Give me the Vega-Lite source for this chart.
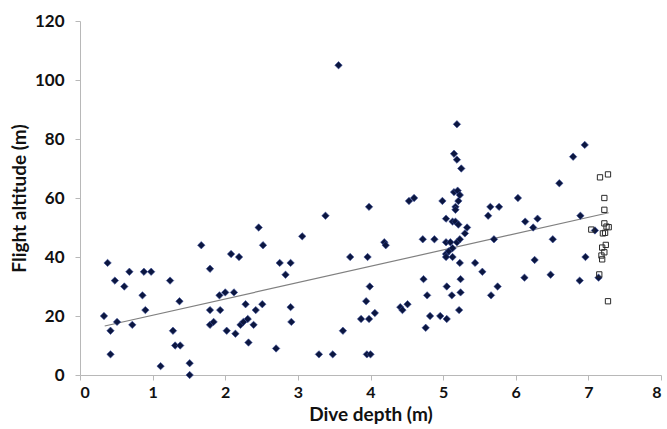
{
  "$schema": "https://vega.github.io/schema/vega-lite/v6.json",
  "autosize": {"type": "none"},
  "padding": {"left": 80, "top": 21, "right": 6, "bottom": 54},
  "width": 581,
  "height": 354,
  "background": "white",
  "config": {
    "view": {"stroke": null},
    "axis": {
      "grid": false,
      "domainColor": "#b8b8b8",
      "tickColor": "#b8b8b8",
      "tickSize": 5,
      "labelFont": "Lato",
      "labelFontWeight": "bold",
      "labelFontSize": 17,
      "labelColor": "#111111",
      "titleFont": "Lato",
      "titleFontWeight": "bold",
      "titleFontSize": 19,
      "titleColor": "#111111"
    }
  },
  "datasets": {
    "dives": [
      {"depth": 0.33, "alt": 20}, {"depth": 0.38, "alt": 38}, {"depth": 0.42, "alt": 15}, {"depth": 0.42, "alt": 7},
      {"depth": 0.48, "alt": 32}, {"depth": 0.51, "alt": 18}, {"depth": 0.61, "alt": 30}, {"depth": 0.68, "alt": 35},
      {"depth": 0.72, "alt": 17}, {"depth": 0.86, "alt": 27}, {"depth": 0.88, "alt": 35}, {"depth": 0.90, "alt": 22},
      {"depth": 0.98, "alt": 35}, {"depth": 1.11, "alt": 3}, {"depth": 1.24, "alt": 32}, {"depth": 1.28, "alt": 15},
      {"depth": 1.31, "alt": 10}, {"depth": 1.37, "alt": 25}, {"depth": 1.38, "alt": 10}, {"depth": 1.51, "alt": 4},
      {"depth": 1.51, "alt": 0}, {"depth": 1.67, "alt": 44}, {"depth": 1.79, "alt": 36}, {"depth": 1.79, "alt": 22},
      {"depth": 1.79, "alt": 17}, {"depth": 1.84, "alt": 18}, {"depth": 1.92, "alt": 27}, {"depth": 1.93, "alt": 22},
      {"depth": 2.00, "alt": 28}, {"depth": 2.02, "alt": 15}, {"depth": 2.08, "alt": 41}, {"depth": 2.12, "alt": 28},
      {"depth": 2.14, "alt": 14}, {"depth": 2.19, "alt": 40}, {"depth": 2.21, "alt": 17}, {"depth": 2.25, "alt": 18},
      {"depth": 2.28, "alt": 24}, {"depth": 2.31, "alt": 19}, {"depth": 2.32, "alt": 11}, {"depth": 2.39, "alt": 17},
      {"depth": 2.42, "alt": 22}, {"depth": 2.46, "alt": 50}, {"depth": 2.51, "alt": 24}, {"depth": 2.52, "alt": 44},
      {"depth": 2.70, "alt": 9}, {"depth": 2.75, "alt": 38}, {"depth": 2.83, "alt": 34}, {"depth": 2.90, "alt": 38},
      {"depth": 2.90, "alt": 23}, {"depth": 2.91, "alt": 18}, {"depth": 3.06, "alt": 47}, {"depth": 3.29, "alt": 7},
      {"depth": 3.38, "alt": 54}, {"depth": 3.48, "alt": 7}, {"depth": 3.56, "alt": 105}, {"depth": 3.62, "alt": 15},
      {"depth": 3.72, "alt": 40}, {"depth": 3.87, "alt": 19}, {"depth": 3.94, "alt": 25}, {"depth": 3.95, "alt": 7},
      {"depth": 3.96, "alt": 40}, {"depth": 3.98, "alt": 57}, {"depth": 3.98, "alt": 19}, {"depth": 3.99, "alt": 30},
      {"depth": 4.00, "alt": 7}, {"depth": 4.06, "alt": 21}, {"depth": 4.19, "alt": 45}, {"depth": 4.21, "alt": 44},
      {"depth": 4.41, "alt": 23}, {"depth": 4.44, "alt": 22}, {"depth": 4.51, "alt": 24}, {"depth": 4.53, "alt": 59},
      {"depth": 4.60, "alt": 60}, {"depth": 4.72, "alt": 46}, {"depth": 4.73, "alt": 32.5}, {"depth": 4.76, "alt": 16},
      {"depth": 4.78, "alt": 27}, {"depth": 4.82, "alt": 20}, {"depth": 4.88, "alt": 46}, {"depth": 4.96, "alt": 20},
      {"depth": 4.99, "alt": 59}, {"depth": 5.04, "alt": 53}, {"depth": 5.04, "alt": 45}, {"depth": 5.04, "alt": 41},
      {"depth": 5.04, "alt": 40}, {"depth": 5.05, "alt": 19}, {"depth": 5.05, "alt": 30}, {"depth": 5.08, "alt": 42},
      {"depth": 5.10, "alt": 45}, {"depth": 5.12, "alt": 27}, {"depth": 5.13, "alt": 52}, {"depth": 5.13, "alt": 43},
      {"depth": 5.13, "alt": 40}, {"depth": 5.15, "alt": 62}, {"depth": 5.15, "alt": 75}, {"depth": 5.17, "alt": 57},
      {"depth": 5.17, "alt": 56}, {"depth": 5.17, "alt": 52}, {"depth": 5.19, "alt": 73}, {"depth": 5.19, "alt": 85},
      {"depth": 5.19, "alt": 45}, {"depth": 5.20, "alt": 62.5}, {"depth": 5.21, "alt": 59}, {"depth": 5.21, "alt": 51},
      {"depth": 5.22, "alt": 22}, {"depth": 5.23, "alt": 61}, {"depth": 5.23, "alt": 46}, {"depth": 5.23, "alt": 38},
      {"depth": 5.24, "alt": 32.5}, {"depth": 5.24, "alt": 28}, {"depth": 5.25, "alt": 70}, {"depth": 5.30, "alt": 48},
      {"depth": 5.33, "alt": 50}, {"depth": 5.44, "alt": 38}, {"depth": 5.54, "alt": 35}, {"depth": 5.62, "alt": 54},
      {"depth": 5.65, "alt": 57}, {"depth": 5.66, "alt": 27}, {"depth": 5.70, "alt": 46}, {"depth": 5.75, "alt": 30},
      {"depth": 5.77, "alt": 57}, {"depth": 6.03, "alt": 60}, {"depth": 6.12, "alt": 33}, {"depth": 6.13, "alt": 52},
      {"depth": 6.24, "alt": 50}, {"depth": 6.26, "alt": 39}, {"depth": 6.30, "alt": 53}, {"depth": 6.48, "alt": 34},
      {"depth": 6.51, "alt": 46}, {"depth": 6.60, "alt": 65}, {"depth": 6.79, "alt": 74}, {"depth": 6.88, "alt": 32},
      {"depth": 6.89, "alt": 54}, {"depth": 6.95, "alt": 78}, {"depth": 6.96, "alt": 40}, {"depth": 7.09, "alt": 49},
      {"depth": 7.14, "alt": 33}
    ],
    "open": [
      {"depth": 7.16, "alt": 67}, {"depth": 7.27, "alt": 68}, {"depth": 7.22, "alt": 60}, {"depth": 7.22, "alt": 56},
      {"depth": 7.22, "alt": 51.4}, {"depth": 7.25, "alt": 50.3}, {"depth": 7.28, "alt": 50.1}, {"depth": 7.04, "alt": 49.3},
      {"depth": 7.20, "alt": 48}, {"depth": 7.23, "alt": 48.2}, {"depth": 7.24, "alt": 44.1}, {"depth": 7.19, "alt": 43.2},
      {"depth": 7.22, "alt": 41.6}, {"depth": 7.18, "alt": 40.5}, {"depth": 7.19, "alt": 39.2}, {"depth": 7.15, "alt": 34.1},
      {"depth": 7.27, "alt": 25}
    ],
    "trend": [
      {"depth": 0.34, "alt": 16.6},
      {"depth": 7.28, "alt": 55.0}
    ]
  },
  "layer": [
    {
      "data": {"name": "trend"},
      "mark": {"type": "line", "color": "#808080", "strokeWidth": 1.2},
      "encoding": {
        "x": {"field": "depth", "type": "quantitative", "scale": {"domain": [0, 8], "nice": false},
              "axis": {"title": "Dive depth (m)", "values": [0, 1, 2, 3, 4, 5, 6, 7, 8], "format": "d", "labelFontSize": 16, "labelPadding": 4, "titlePadding": 5}},
        "y": {"field": "alt", "type": "quantitative", "scale": {"domain": [0, 120], "nice": false},
              "axis": {"title": "Flight altitude (m)", "values": [0, 20, 40, 60, 80, 100, 120], "format": "d", "labelPadding": 11, "titlePadding": 5}}
      }
    },
    {
      "data": {"name": "dives"},
      "mark": {"type": "point", "shape": "diamond", "filled": true, "size": 55, "color": "#0b1640", "stroke": "#3c4f9a", "strokeWidth": 0.6, "opacity": 1},
      "encoding": {
        "x": {"field": "depth", "type": "quantitative"},
        "y": {"field": "alt", "type": "quantitative"}
      }
    },
    {
      "data": {"name": "open"},
      "mark": {"type": "point", "shape": "square", "filled": false, "size": 28, "color": "#2a2a2a", "strokeWidth": 1, "opacity": 1},
      "encoding": {
        "x": {"field": "depth", "type": "quantitative"},
        "y": {"field": "alt", "type": "quantitative"}
      }
    }
  ]
}
